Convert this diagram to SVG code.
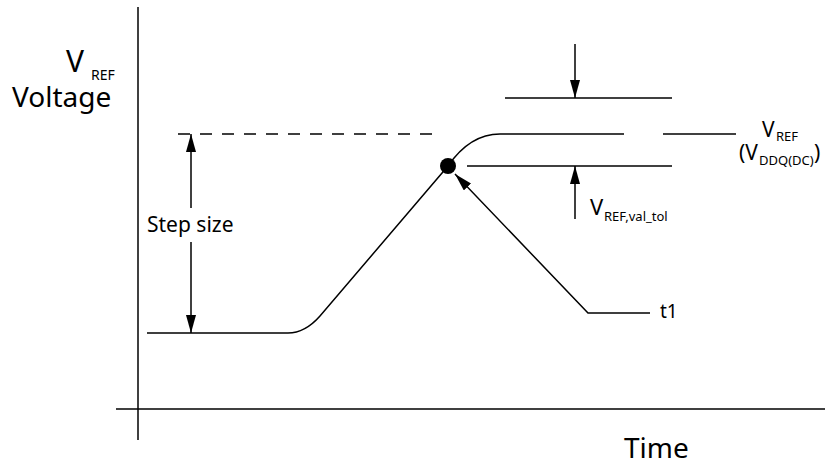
<svg xmlns="http://www.w3.org/2000/svg" width="825" height="466" viewBox="0 0 825 466">
<style>
.l{stroke:#000;stroke-width:1.5;fill:none}
.t{font-family:"Noto Sans","Open Sans",sans-serif;fill:#000}
</style>
<defs>
<marker id="ah" viewBox="0 0 18 10" refX="18" refY="5" markerWidth="18" markerHeight="10" markerUnits="userSpaceOnUse" orient="auto-start-reverse">
<path d="M0,0 L18,5 L0,10 z" fill="#000"/>
</marker>
</defs>
<rect width="825" height="466" fill="#fff"/>
<g id="axes">
<line class="l" x1="138" y1="7" x2="138" y2="440"/>
<line class="l" x1="116" y1="409" x2="825" y2="409"/>
</g>
<g id="labels">
<text class="t" font-size="30"><tspan x="66" y="72">V</tspan><tspan x="91" y="80" font-size="14">REF</tspan></text>
<text class="t" x="12" y="107" font-size="28">Voltage</text>
<text class="t" x="624" y="458" font-size="28">Time</text>
</g>
<g id="waveform">
<path class="l" d="M147,333 L288,333 Q305,333 320,316 L448,166 Q470,134 500,134 L624,134"/>
<line class="l" x1="663" y1="134" x2="736" y2="134"/>
<circle cx="448" cy="166" r="8" fill="#000"/>
</g>
<g id="connectors">
<line class="l" x1="178" y1="134" x2="438" y2="134" stroke-dasharray="12,10"/>
<line class="l" x1="191" y1="208" x2="191" y2="134" marker-end="url(#ah)"/>
<line class="l" x1="191" y1="242" x2="191" y2="333" marker-end="url(#ah)"/>
<line class="l" x1="505" y1="98" x2="672" y2="98"/>
<line class="l" x1="575" y1="44" x2="575" y2="98" marker-end="url(#ah)"/>
<line class="l" x1="467" y1="166" x2="672" y2="166"/>
<line class="l" x1="575" y1="219" x2="575" y2="166" marker-end="url(#ah)"/>
<path class="l" d="M650,313 L588,313 L455,174" marker-end="url(#ah)"/>
</g>
<g id="text">
<text class="t" x="147" y="232" font-size="21">Step size</text>
<text class="t" font-size="22"><tspan x="590" y="215">V</tspan><tspan x="604" y="221" font-size="13">REF,val_tol</tspan></text>
<text class="t" font-size="21"><tspan x="762" y="137">V</tspan><tspan x="776" y="141" font-size="13">REF</tspan></text>
<text class="t" font-size="21"><tspan x="739" y="160">(V</tspan><tspan x="759" y="165" font-size="13">DDQ(DC)</tspan><tspan x="814" y="160">)</tspan></text>
<text class="t" x="660" y="318" font-size="19">t1</text>
</g>
</svg>
